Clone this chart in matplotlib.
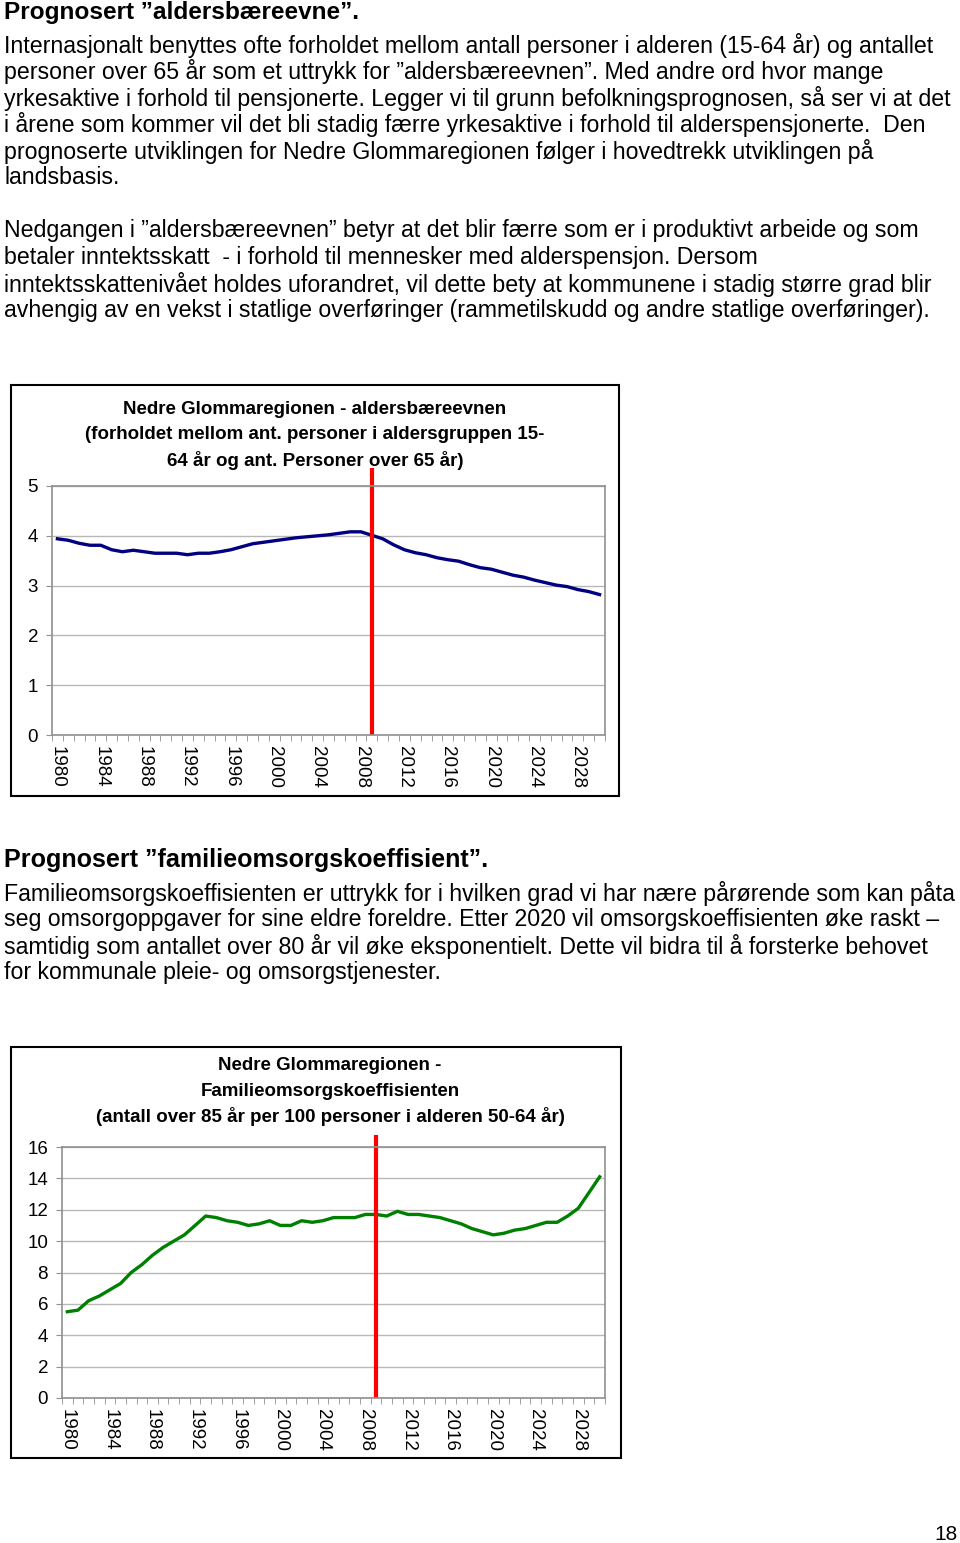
import numpy as np
import matplotlib
matplotlib.use("Agg")
import matplotlib.pyplot as plt
from matplotlib.patches import Rectangle

plt.rcParams['font.family'] = ['Liberation Sans', 'DejaVu Sans']

W, H = 960, 1543

# data
years = list(range(1980, 2031))
baereevne = [3.94, 3.91, 3.85, 3.81, 3.81, 3.72, 3.68, 3.71, 3.68, 3.65,
             3.65, 3.65, 3.62, 3.65, 3.65, 3.68, 3.72, 3.78, 3.84, 3.87,
             3.90, 3.93, 3.96, 3.98, 4.00, 4.02, 4.05, 4.08, 4.08, 4.01,
             3.94, 3.82, 3.72, 3.66, 3.62, 3.56, 3.52, 3.49, 3.42, 3.36,
             3.33, 3.27, 3.21, 3.17, 3.11, 3.06, 3.01, 2.98, 2.92, 2.88,
             2.82]
omsorg = [5.5, 5.6, 6.2, 6.5, 6.9, 7.3, 8.0, 8.5, 9.1, 9.6,
          10.0, 10.4, 11.0, 11.6, 11.5, 11.3, 11.2, 11.0, 11.1, 11.3,
          11.0, 11.0, 11.3, 11.2, 11.3, 11.5, 11.5, 11.5, 11.7, 11.7,
          11.6, 11.9, 11.7, 11.7, 11.6, 11.5, 11.3, 11.1, 10.8, 10.6,
          10.4, 10.5, 10.7, 10.8, 11.0, 11.2, 11.2, 11.6, 12.1, 13.1,
          14.1]
year_labels = list(range(1980, 2029, 4))
marker_year = 2009

title1 = ["Nedre Glommaregionen - aldersbæreevnen",
          "(forholdet mellom ant. personer i aldersgruppen 15-",
          "64 år og ant. Personer over 65 år)"]
title2 = ["Nedre Glommaregionen -",
          "Familieomsorgskoeffisienten",
          "(antall over 85 år per 100 personer i alderen 50-64 år)"]

heading1 = "Prognosert ”aldersbæreevne”."
para1 = ["Internasjonalt benyttes ofte forholdet mellom antall personer i alderen (15-64 år) og antallet",
         "personer over 65 år som et uttrykk for ”aldersbæreevnen”. Med andre ord hvor mange",
         "yrkesaktive i forhold til pensjonerte. Legger vi til grunn befolkningsprognosen, så ser vi at det",
         "i årene som kommer vil det bli stadig færre yrkesaktive i forhold til alderspensjonerte.  Den",
         "prognoserte utviklingen for Nedre Glommaregionen følger i hovedtrekk utviklingen på",
         "landsbasis."]
para2 = ["Nedgangen i ”aldersbæreevnen” betyr at det blir færre som er i produktivt arbeide og som",
         "betaler inntektsskatt  - i forhold til mennesker med alderspensjon. Dersom",
         "inntektsskattenivået holdes uforandret, vil dette bety at kommunene i stadig større grad blir",
         "avhengig av en vekst i statlige overføringer (rammetilskudd og andre statlige overføringer)."]
heading2 = "Prognosert ”familieomsorgskoeffisient”."
para3 = ["Familieomsorgskoeffisienten er uttrykk for i hvilken grad vi har nære pårørende som kan påta",
         "seg omsorgoppgaver for sine eldre foreldre. Etter 2020 vil omsorgskoeffisienten øke raskt –",
         "samtidig som antallet over 80 år vil øke eksponentielt. Dette vil bidra til å forsterke behovet",
         "for kommunale pleie- og omsorgstjenester."]


def fx(x):
    return x / W


def fy(y):
    return 1 - y / H


def put(x, y, s, **kw):
    fig.text(fx(x), fy(y), s, va='center', **kw)


fig = plt.figure(figsize=(W / 100, H / 100), dpi=100)
fig.patch.set_facecolor('white')

# page text
put(4, 12, heading1, fontsize=17.6, fontweight='bold')
for i, line in enumerate(para1):
    put(4, 45 + i * 26.6, line, fontsize=16.7)
for i, line in enumerate(para2):
    put(4, 231 + i * 26.6, line, fontsize=16.7)
put(4, 860, heading2, fontsize=18.1, fontweight='bold')
for i, line in enumerate(para3):
    put(4, 893 + i * 26.6, line, fontsize=16.7)
put(958, 1535, "18", fontsize=15, ha='right')


def chart(box, plot, values, color, ylim, yticks, title, tcx, ty0, red_top):
    x0, y0, x1, y1 = box
    fig.patches.append(Rectangle((fx(x0), fy(y1)), fx(x1 - x0), (y1 - y0) / H,
                                 transform=fig.transFigure, fill=False,
                                 edgecolor='black', linewidth=1.5))
    px0, py0, px1, py1 = plot
    ax = fig.add_axes([fx(px0), fy(py1), fx(px1 - px0), (py1 - py0) / H])
    ax.set_xlim(1979.5, 2030.5)
    ax.set_ylim(*ylim)
    ax.set_yticks(yticks)
    ax.grid(axis='y', color='#b8b8b8', linewidth=1)
    ax.set_axisbelow(True)
    for s in ax.spines.values():
        s.set_color('#909090')
        s.set_linewidth(1.2)
    ax.set_xticks(year_labels)
    ax.set_xticklabels([str(y) for y in year_labels], rotation=-90)
    ax.set_xticks(np.arange(1979.5, 2031, 1), minor=True)
    ax.tick_params(axis='x', which='major', length=0, labelsize=13.5, pad=8)
    ax.tick_params(axis='x', which='minor', length=4, color='#909090')
    ax.tick_params(axis='y', length=4, color='#909090', labelsize=13.5, pad=6)
    ax.plot(years, values, color=color, linewidth=2.4)
    ax.plot([marker_year, marker_year], [0, red_top], color='#ff0000',
            linewidth=3, clip_on=False, solid_capstyle='butt')
    for i, line in enumerate(title):
        put(tcx, ty0 + i * 25.5, line, fontsize=13.5, fontweight='bold', ha='center')
    return ax


chart((11, 385, 619, 796), (52, 486, 605, 735), baereevne, '#000080',
      (0, 5), range(0, 6), title1, 315, 409, 5.36)
chart((11, 1047, 621, 1458), (62, 1147, 605, 1398), omsorg, '#008000',
      (0, 16), range(0, 17, 2), title2, 330, 1066, 16.76)

fig.savefig("out.png", dpi=100)
